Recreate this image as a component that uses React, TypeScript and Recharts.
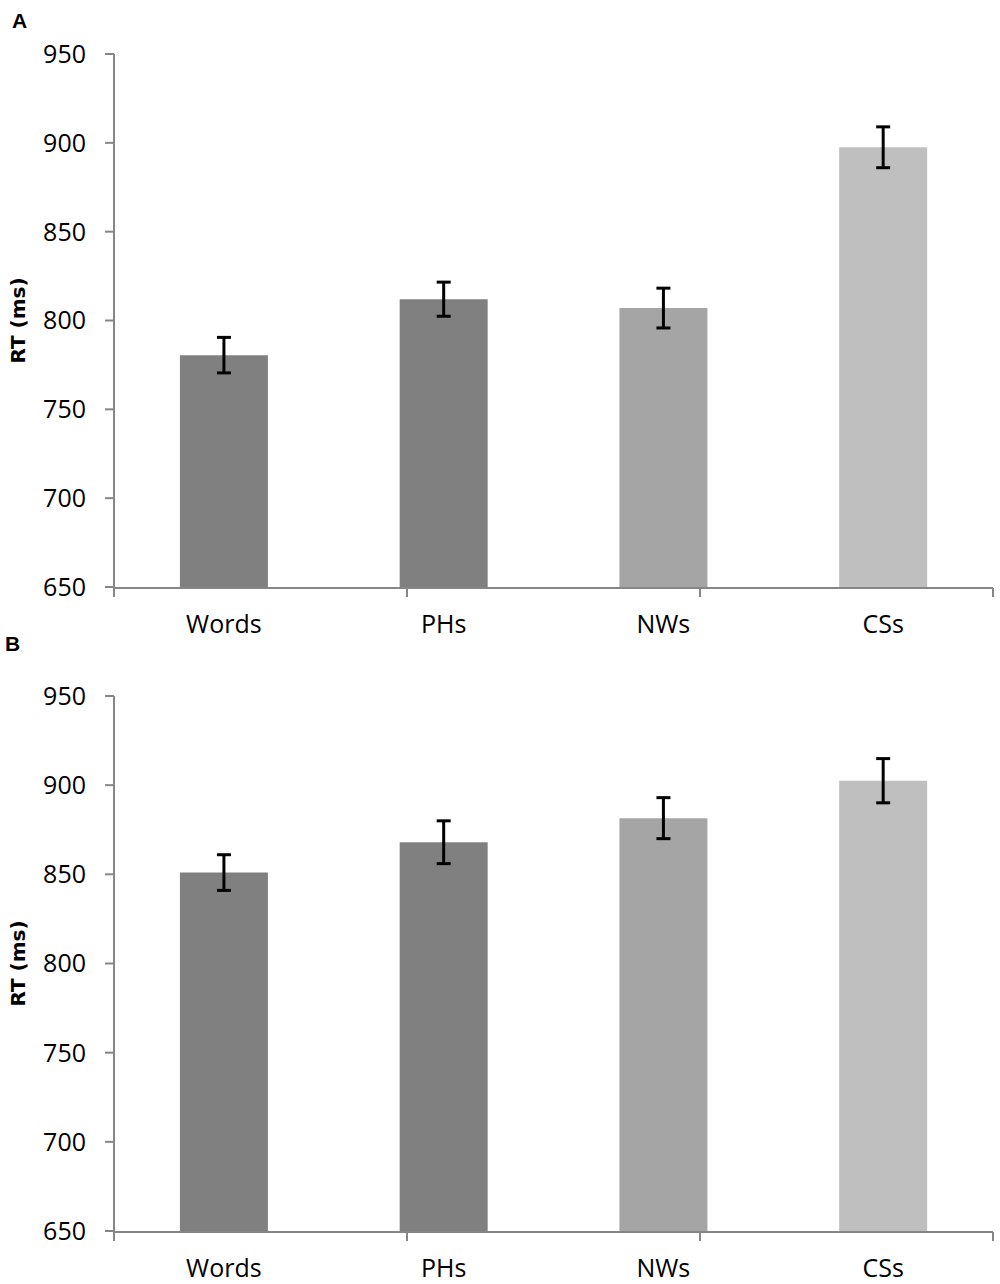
import React from "react";
import { Bar, BarChart, Cell, ErrorBar, XAxis, YAxis } from "recharts";

const categories = ["Words", "PHs", "NWs", "CSs"];
const rtA = [780.5, 812, 807, 897.5];
const errA = [10, 9.6, 11.2, 11.5];
const rtB = [851, 868, 881.5, 902.5];
const errB = [10, 12, 11.5, 12.4];
const yTicks = [650, 700, 750, 800, 850, 900, 950];
const boundTicks = [0, 1, 2, 3, 4];

const BAR_COLORS = ["#808080", "#808080", "#A5A5A5", "#BFBFBF"];
const AXIS_COLOR = "#868686";
const TICK_FONT = "'Open Sans', sans-serif";

const makeData = (values: number[], errs: number[]) =>
	categories.map((name, i) => ({ name, rt: values[i], err: errs[i] }));

const YLabel = (props: any) => {
	const vb = props.viewBox || {};
	const x = (vb.x ?? 0) + 18;
	const y = (vb.y ?? 0) + (vb.height ?? 0) / 2;
	return (
		<text
			x={x}
			y={y}
			transform={`rotate(-90, ${x}, ${y})`}
			textAnchor="middle"
			dominantBaseline="central"
			fontFamily="'DejaVu Sans', sans-serif"
			fontWeight="bold"
			fontSize={20}
			fill="#000"
		>
			RT (ms)
		</text>
	);
};

type PanelProps = { data: { name: string; rt: number; err: number }[]; bottom: number };

function Panel({ data, bottom }: PanelProps) {
	return (
		<BarChart
			width={1000}
			height={642}
			data={data}
			margin={{ top: 54, right: 7, bottom, left: 0 }}
			barCategoryGap="30%"
		>
			<XAxis
				xAxisId="bounds"
				type="number"
				domain={[0, 4]}
				allowDataOverflow
				ticks={boundTicks}
				interval={0}
				height={1}
				tickSize={9}
				tickFormatter={() => ""}
				axisLine={{ stroke: AXIS_COLOR, strokeWidth: 2 }}
				tickLine={{ stroke: AXIS_COLOR, strokeWidth: 2 }}
			/>
			<XAxis
				dataKey="name"
				height={1}
				axisLine={false}
				tickLine={false}
				tickSize={0}
				tickMargin={28}
				interval={0}
				tick={{ fontFamily: TICK_FONT, fontSize: 25, fill: "#000" }}
			/>
			<YAxis
				width={114}
				domain={[650, 950]}
				ticks={yTicks}
				interval={0}
				allowDataOverflow
				tickSize={9}
				tickMargin={19}
				axisLine={{ stroke: AXIS_COLOR, strokeWidth: 2 }}
				tickLine={{ stroke: AXIS_COLOR, strokeWidth: 2 }}
				tick={{ fontFamily: TICK_FONT, fontSize: 25, fill: "#000" }}
				label={{ content: YLabel }}
			/>
			<Bar dataKey="rt" isAnimationActive={false}>
				{data.map((d, i) => (
					<Cell key={d.name} fill={BAR_COLORS[i]} />
				))}
				<ErrorBar dataKey="err" width={7} strokeWidth={3} stroke="#000" direction="y" />
			</Bar>
		</BarChart>
	);
}

export default function App() {
	return (
		<div
			style={{
				position: "absolute",
				top: 0,
				left: 0,
				width: 1000,
				height: 1284,
				background: "#fff",
				overflow: "hidden",
			}}
		>
			<div style={{ position: "absolute", top: 0, left: 0 }}>
				<Panel data={makeData(rtA, errA)} bottom={53} />
			</div>
			<div style={{ position: "absolute", top: 642, left: 0 }}>
				<Panel data={makeData(rtB, errB)} bottom={51} />
			</div>
			{/* panel letters */}
			<svg
				width={40}
				height={1284}
				style={{ position: "absolute", top: 0, left: 0, pointerEvents: "none" }}
			>
				<text x={12} y={28} fontFamily="'Liberation Sans', Arial, sans-serif" fontWeight="bold" fontSize={21} fill="#000">
					A
				</text>
				<text x={5} y={651} fontFamily="'Liberation Sans', Arial, sans-serif" fontWeight="bold" fontSize={21} fill="#000">
					B
				</text>
			</svg>
		</div>
	);
}
